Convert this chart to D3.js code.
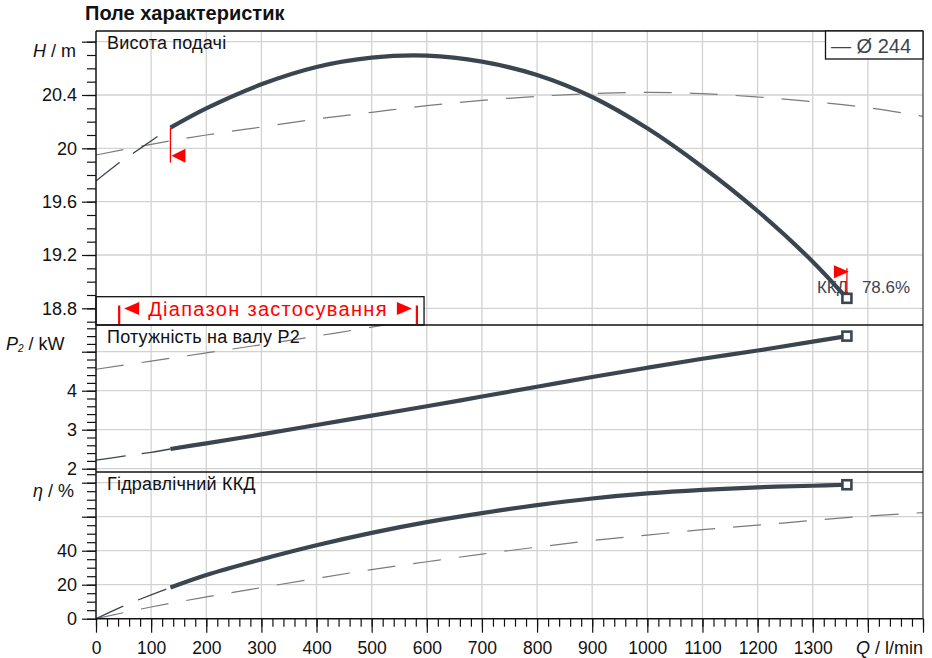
<!DOCTYPE html>
<html>
<head>
<meta charset="utf-8">
<script src="https://cdn.jsdelivr.net/npm/d3@7"></script>
<style>
  body { margin: 0; background: #fff; }
  svg { display: block; font-family: "Liberation Sans", Arial, sans-serif; }
</style>
</head>
<body>
<svg width="932" height="658"></svg>
<script>
// ---- data ----
// head (H / m), working curve
var headQ = [135, 200, 300, 400, 500, 600, 700, 800, 900, 1000, 1100, 1200, 1300, 1362];
var headH = [20.155, 20.30, 20.48, 20.61, 20.68, 20.695, 20.65, 20.55, 20.385, 20.15, 19.86, 19.53, 19.15, 18.875];
// head, thin dashed part below the range
var headExtQ = [0, 35, 70, 105, 135];
var headExtH = [19.755, 19.87, 19.97, 20.07, 20.155];
// head, grey dashed curve
var headAltQ = [0, 100, 200, 300, 400, 500, 600, 700, 800, 900, 1000, 1100, 1200, 1300, 1400, 1500];
var headAltH = [19.95, 20.03, 20.10, 20.16, 20.22, 20.27, 20.32, 20.36, 20.39, 20.41, 20.42, 20.41, 20.385, 20.35, 20.305, 20.24];

// shaft power (P2 / kW)
var powerQ = [135, 200, 300, 400, 500, 600, 700, 800, 900, 1000, 1100, 1200, 1300, 1362];
var powerP = [2.505, 2.65, 2.88, 3.12, 3.36, 3.60, 3.85, 4.10, 4.35, 4.59, 4.82, 5.03, 5.26, 5.40];
var powerExtQ = [0, 50, 100, 135];
var powerExtP = [2.22, 2.32, 2.42, 2.505];
var powerAltQ = [0, 100, 200, 300, 400, 500, 560];
var powerAltP = [4.55, 4.76, 4.97, 5.18, 5.40, 5.63, 5.77];

// hydraulic efficiency (eta / %)
var effQ = [135, 200, 300, 400, 500, 600, 700, 800, 900, 1000, 1100, 1200, 1300, 1362];
var effE = [18.3, 25.7, 34.9, 43.2, 50.5, 56.8, 62.1, 66.8, 70.7, 73.7, 75.8, 77.3, 78.2, 78.8];
var effExtQ = [0, 50, 100, 135];
var effExtE = [0, 7.5, 14.0, 18.3];
var effAltQ = [0, 100, 200, 300, 400, 500, 600, 700, 800, 900, 1000, 1100, 1200, 1300, 1400, 1500];
var effAltE = [0, 6.9, 12.8, 18.3, 23.7, 28.9, 33.5, 38.0, 42.1, 46.0, 49.2, 52.4, 55.0, 57.8, 60.4, 62.4];

var dutyQ = 1362;
var dutyEff = "78.6%";
var appRange = [42, 582];   // Діапазон застосування
var boxQ = 595;

var xMajor = d3.range(0, 1501, 100);
var xMinor = d3.range(0, 1501, 20);
var xLabels = d3.range(0, 1301, 100);
var hGrid = [18.8, 19.2, 19.6, 20.0, 20.4, 20.8];
var hLabels = [18.8, 19.2, 19.6, 20.0, 20.4];
var pGrid = [2, 3, 4, 5];
var pLabels = [2, 3, 4];
var eGrid = [0, 20, 40, 60, 80];
var eLabels = [0, 20, 40];

// ---- layout ----
var svg = d3.select("svg");
var left = 96, right = 923, plotTop = 31, bottom = 618.7;
var p1b = 325, p2b = 472;
var curveCol = "#3b4550";
var gridCol = "#d2d2d2";
var dashCol = "#7a7a7a";
var ink = "#111";

var x = d3.scaleLinear().domain([0, 1500]).range([left, right]);
var yH = d3.scaleLinear().domain([18.675, 20.88]).range([p1b, plotTop]);
var yP = d3.scaleLinear().domain([1.915, 5.685]).range([p2b, p1b]);
var yE = d3.scaleLinear().domain([0, 86.3]).range([bottom, p2b]);

var panels = [
    { id: "p1", y0: plotTop, y1: p1b },
    { id: "p2", y0: p1b, y1: p2b },
    { id: "p3", y0: p2b, y1: bottom }
];

var defs = svg.append("defs");
panels.forEach(function (p) {
    defs.append("clipPath").attr("id", "clip-" + p.id)
        .append("rect")
        .attr("x", left).attr("y", p.y0)
        .attr("width", right - left).attr("height", p.y1 - p.y0);
});

// grid
var grid = svg.append("g").attr("stroke", gridCol).attr("stroke-width", 1.3);
grid.selectAll("line.v").data(xMajor.filter(function (d) { return d > 0 && d < 1500; }))
    .enter().append("line")
    .attr("x1", function (d) { return x(d); }).attr("x2", function (d) { return x(d); })
    .attr("y1", plotTop).attr("y2", bottom);

function hGridLines(vals, scale) {
    grid.selectAll(null).data(vals).enter().append("line")
        .attr("x1", left).attr("x2", right)
        .attr("y1", function (d) { return scale(d); })
        .attr("y2", function (d) { return scale(d); });
}
hGridLines(hGrid, yH);
hGridLines(pGrid, yP);
hGridLines(eGrid.filter(function (d) { return d > 0; }), yE);

// curves
function drawLine(id, qs, vs, scale, style) {
    var pts = qs.map(function (q, i) { return [x(q), scale(vs[i])]; });
    var line = d3.line().curve(d3.curveCatmullRom.alpha(0.5));
    var path = svg.append("path")
        .attr("clip-path", "url(#clip-" + id + ")")
        .attr("d", line(pts))
        .attr("fill", "none")
        .attr("stroke", style.color)
        .attr("stroke-width", style.width);
    if (style.dash) path.attr("stroke-dasharray", style.dash);
}

var greyDash = { color: dashCol, width: 1.2, dash: "28,18" };
var darkDash = { color: curveCol, width: 1.3, dash: "30,16" };
var mainLine = { color: curveCol, width: 4.2 };

drawLine("p1", headAltQ, headAltH, yH, greyDash);
drawLine("p1", headExtQ, headExtH, yH, darkDash);
drawLine("p1", headQ, headH, yH, mainLine);

drawLine("p2", powerAltQ, powerAltP, yP, greyDash);
drawLine("p2", powerExtQ, powerExtP, yP, darkDash);
drawLine("p2", powerQ, powerP, yP, mainLine);

drawLine("p3", effAltQ, effAltE, yE, greyDash);
drawLine("p3", effExtQ, effExtE, yE, darkDash);
drawLine("p3", effQ, effE, yE, mainLine);

// red range markers on the head curve
var red = "#ff0000";
var hStart = yH(headH[0]);
var xs = x(headQ[0]);
svg.append("line").attr("x1", xs).attr("x2", xs)
    .attr("y1", hStart).attr("y2", hStart + 35)
    .attr("stroke", red).attr("stroke-width", 1.3);
svg.append("path")
    .attr("d", "M" + (xs + 1) + "," + (hStart + 28) + "L" + (xs + 15) + "," + (hStart + 21) + "L" + (xs + 15) + "," + (hStart + 35) + "Z")
    .attr("fill", red);

var xd = x(dutyQ);
var hEnd = yH(headH[headH.length - 1]);

svg.append("text")
    .attr("x", xd - 30).attr("y", hEnd - 5)
    .attr("font-size", 17).attr("fill", curveCol)
    .text("ККД");
svg.append("text")
    .attr("x", xd + 15).attr("y", hEnd - 5)
    .attr("font-size", 17).attr("fill", curveCol)
    .text(dutyEff);

svg.append("line").attr("x1", xd).attr("x2", xd)
    .attr("y1", hEnd - 30).attr("y2", hEnd)
    .attr("stroke", red).attr("stroke-width", 1.3);
svg.append("path")
    .attr("d", "M" + (xd - 13) + "," + (hEnd - 33) + "L" + (xd + 2) + "," + (hEnd - 26.5) + "L" + (xd - 13) + "," + (hEnd - 20) + "Z")
    .attr("fill", red);

// duty point squares
var ends = [
    [yH, headH[headH.length - 1]],
    [yP, powerP[powerP.length - 1]],
    [yE, effE[effE.length - 1]]
];
svg.selectAll("rect.duty").data(ends).enter().append("rect")
    .attr("x", xd - 4.5)
    .attr("y", function (d) { return d[0](d[1]) - 4.5; })
    .attr("width", 9).attr("height", 9)
    .attr("fill", "#fff").attr("stroke", curveCol).attr("stroke-width", 2.6);

// range box
var bx1 = x(boxQ), by0 = 296.7;
svg.append("rect")
    .attr("x", left).attr("y", by0)
    .attr("width", bx1 - left).attr("height", p1b - by0)
    .attr("fill", "#fff").attr("stroke", ink).attr("stroke-width", 1.3);
var ra = x(appRange[0]), rb = x(appRange[1]);
svg.selectAll("line.rb").data([ra, rb]).enter().append("line")
    .attr("x1", function (d) { return d; }).attr("x2", function (d) { return d; })
    .attr("y1", 305.5).attr("y2", 324)
    .attr("stroke", red).attr("stroke-width", 2.2);
svg.append("path")
    .attr("d", "M" + (ra + 5) + ",308.5L" + (ra + 20) + ",302L" + (ra + 20) + ",315Z")
    .attr("fill", red);
svg.append("path")
    .attr("d", "M" + (rb - 5) + ",308.5L" + (rb - 20) + ",302L" + (rb - 20) + ",315Z")
    .attr("fill", red);
svg.append("text")
    .attr("x", (ra + rb) / 2).attr("y", 315.5)
    .attr("text-anchor", "middle")
    .attr("font-size", 20).attr("fill", red)
    .attr("letter-spacing", 1.3)
    .text("Діапазон застосування");

// frame and panel separators
var frame = svg.append("g").attr("stroke", ink).attr("stroke-width", 1.3);
frame.append("line").attr("x1", left).attr("x2", right).attr("y1", plotTop).attr("y2", plotTop);
frame.append("line").attr("x1", right).attr("x2", right).attr("y1", plotTop).attr("y2", bottom).attr("stroke", "#444");
frame.append("line").attr("x1", left).attr("x2", right).attr("y1", p1b).attr("y2", p1b);
frame.append("line").attr("x1", left).attr("x2", right).attr("y1", p2b).attr("y2", p2b);

// y axes
function yAxis(scale, d0, d1, step, majors, labels) {
    var minors = d3.range(d0, d1 + step / 2, step).map(function (v) { return +v.toFixed(3); });
    var g = svg.append("g").attr("transform", "translate(" + left + ",0)");
    g.call(d3.axisLeft(scale).tickValues(minors).tickSize(9).tickFormat(""));
    g.select(".domain").remove();
    var g2 = svg.append("g").attr("transform", "translate(" + left + ",0)");
    g2.call(d3.axisLeft(scale).tickValues(majors).tickSize(14).tickPadding(5)
        .tickFormat(function (d) { return labels.indexOf(d) >= 0 ? String(d) : ""; }));
    g2.select(".domain").remove();
    svg.selectAll(".tick line").attr("stroke", ink).attr("stroke-width", 1.2);
    g2.selectAll(".tick text").attr("font-size", 18).attr("fill", ink)
        .attr("font-family", "Liberation Sans, Arial, sans-serif");
}
yAxis(yH, 18.7, 20.8, 0.1, hGrid, hLabels);
yAxis(yP, 2.0, 5.6, 0.2, pGrid, pLabels);
yAxis(yE, 0, 85, 5, eGrid, eLabels);

svg.append("line").attr("x1", left).attr("x2", left).attr("y1", plotTop).attr("y2", bottom)
    .attr("stroke", ink).attr("stroke-width", 1.5);

// x axis
var gx = svg.append("g").attr("transform", "translate(0," + bottom + ")");
gx.call(d3.axisBottom(x).tickValues(xMinor).tickSize(8).tickFormat(""));
gx.select(".domain").remove();
var gx2 = svg.append("g").attr("transform", "translate(0," + bottom + ")");
gx2.call(d3.axisBottom(x).tickValues(xMajor).tickSize(14).tickPadding(9)
    .tickFormat(function (d) { return xLabels.indexOf(d) >= 0 ? d : ""; }));
gx2.select(".domain").remove();
svg.selectAll(".tick line").attr("stroke", ink).attr("stroke-width", 1.2);
gx2.selectAll(".tick text").attr("font-size", 17.5).attr("fill", ink)
    .attr("font-family", "Liberation Sans, Arial, sans-serif");
svg.append("line").attr("x1", left).attr("x2", right).attr("y1", bottom).attr("y2", bottom)
    .attr("stroke", ink).attr("stroke-width", 1.5);

// titles and labels
svg.append("text").attr("x", 85).attr("y", 20)
    .attr("font-size", 20).attr("font-weight", "bold").attr("fill", ink)
    .text("Поле характеристик");

function panelLabel(txt, y) {
    svg.append("text").attr("x", 107).attr("y", y)
        .attr("font-size", 18).attr("letter-spacing", 0.2).attr("fill", ink).text(txt);
}
panelLabel("Висота подачі", 49);
panelLabel("Потужність на валу P2", 343);
panelLabel("Гідравлічний ККД", 490);

var hl = svg.append("text").attr("x", 33).attr("y", 57).attr("font-size", 18).attr("fill", ink);
hl.append("tspan").attr("font-style", "italic").text("H");
hl.append("tspan").text(" / m");

var pl = svg.append("text").attr("x", 6).attr("y", 350).attr("font-size", 18).attr("fill", ink);
pl.append("tspan").attr("font-style", "italic").text("P");
pl.append("tspan").attr("font-style", "italic").attr("font-size", 10).attr("dy", 2).text("2");
pl.append("tspan").attr("dy", -2).text(" / kW");

var el = svg.append("text").attr("x", 33).attr("y", 497).attr("font-size", 18).attr("fill", ink);
el.append("tspan").attr("font-style", "italic").text("η");
el.append("tspan").text(" / %");

var ql = svg.append("text").attr("x", right).attr("y", 654).attr("text-anchor", "end")
    .attr("font-size", 18).attr("fill", ink);
ql.append("tspan").attr("font-style", "italic").text("Q");
ql.append("tspan").text(" / l/min");

// legend
svg.append("rect").attr("x", 825.5).attr("y", plotTop).attr("width", 97.5).attr("height", 28)
    .attr("fill", "#fff").attr("stroke", ink).attr("stroke-width", 1.3);
svg.append("text").attr("x", 831).attr("y", 52.5).attr("font-size", 20).attr("fill", curveCol)
    .text("— Ø 244");
</script>
</body>
</html>
